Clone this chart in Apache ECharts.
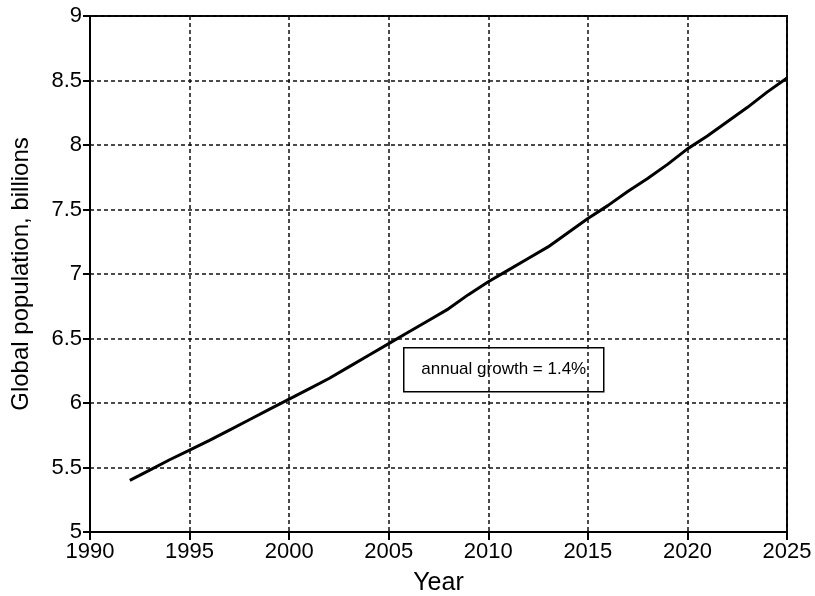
<!DOCTYPE html>
<html>
<head>
<meta charset="utf-8">
<script src="https://cdn.jsdelivr.net/npm/echarts@6/dist/echarts.min.js"></script>
<style>
  html, body { margin: 0; padding: 0; background: #fff; }
  #chart { width: 815px; height: 596px; }
</style>
</head>
<body>
<div id="chart"></div>
<script>
// World population estimates / projections, billions
const years = [1992, 1993, 1994, 1995, 1996, 1997, 1998, 1999, 2000,
               2001, 2002, 2003, 2004, 2005, 2006, 2007, 2008, 2009, 2010,
               2011, 2012, 2013, 2014, 2015, 2016, 2017, 2018, 2019, 2020,
               2021, 2022, 2023, 2024, 2025];
const population = [5.40, 5.48, 5.56, 5.635, 5.71, 5.79, 5.87, 5.95, 6.03,
                    6.11, 6.19, 6.28, 6.37, 6.46, 6.55, 6.64, 6.73, 6.84, 6.94,
                    7.03, 7.12, 7.21, 7.32, 7.43, 7.53, 7.64, 7.74, 7.85, 7.97,
                    8.07, 8.18, 8.29, 8.41, 8.52];
const yearTicks = [1990, 1995, 2000, 2005, 2010, 2015, 2020, 2025];
const popTicks = [5, 5.5, 6, 6.5, 7, 7.5, 8, 8.5, 9];
const growthNote = 'annual growth = 1.4%';

const FONT = '"Liberation Sans", Arial, Helvetica, sans-serif';
const chart = echarts.init(document.getElementById('chart'), null, { renderer: 'canvas' });

const gridLine = { show: true, lineStyle: { color: '#111', width: 1.5, type: [4, 3] } };

chart.setOption({
  animation: false,
  backgroundColor: '#fff',
  grid: {
    left: 90, right: 28, top: 16, bottom: 64,
    outerBoundsMode: 'none', containLabel: false,
    show: true, borderColor: '#000', borderWidth: 2, backgroundColor: 'transparent'
  },
  xAxis: {
    type: 'value',
    min: yearTicks[0], max: yearTicks[yearTicks.length - 1], interval: 5,
    name: 'Year', nameLocation: 'middle', nameGap: 39,
    nameTextStyle: { fontFamily: FONT, fontSize: 25, color: '#000' },
    axisLine: { show: true, lineStyle: { color: '#000', width: 2 } },
    axisTick: { show: true, inside: false, length: 8, lineStyle: { color: '#000', width: 2 } },
    axisLabel: { fontFamily: FONT, fontSize: 22, color: '#000', margin: 9,
                 formatter: v => String(v) },
    splitLine: gridLine
  },
  yAxis: {
    type: 'value',
    min: popTicks[0], max: popTicks[popTicks.length - 1], interval: 0.5,
    name: 'Global population, billions', nameLocation: 'middle', nameGap: 57,
    nameTextStyle: { fontFamily: FONT, fontSize: 24, color: '#000' },
    axisLine: { show: true, lineStyle: { color: '#000', width: 2 } },
    axisTick: { show: true, inside: false, length: 7, lineStyle: { color: '#000', width: 2 } },
    axisLabel: { fontFamily: FONT, fontSize: 22, color: '#000', margin: 8,
                 formatter: v => String(v) },
    splitLine: gridLine
  },
  series: [{
    type: 'line',
    data: years.map((y, i) => [y, population[i]]),
    showSymbol: false,
    smooth: false,
    lineStyle: { color: '#000', width: 3 },
    z: 5
  }],
  graphic: [{
    type: 'group',
    left: 403, top: 347,
    children: [
      { type: 'rect', shape: { x: 0, y: 0, width: 200, height: 44 },
        style: { fill: '#fff', stroke: '#000', lineWidth: 1.5 } },
      { type: 'text', x: 100, y: 22,
        style: { text: growthNote, font: '17px ' + FONT, fill: '#000',
                 textAlign: 'center', textVerticalAlign: 'middle' } }
    ],
    z: 10
  }]
});
</script>
</body>
</html>
